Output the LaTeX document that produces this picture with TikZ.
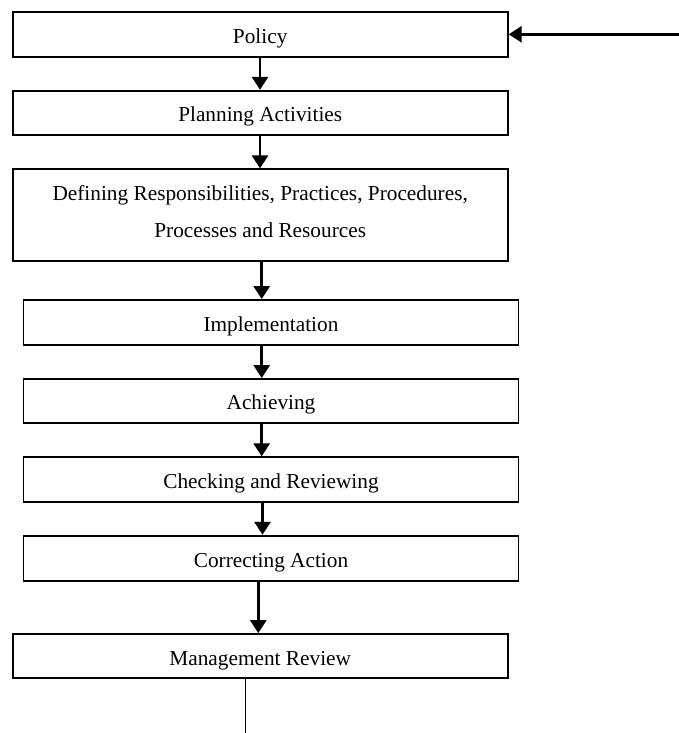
\documentclass[tikz,border=0pt]{standalone}
\usepackage{fontspec}
\setmainfont{Liberation Serif}
\usetikzlibrary{arrows.meta}
\begin{document}
\begin{tikzpicture}[x=1pt,y=-1pt,
  stage/.style={draw, line width=1.9pt, rectangle, inner sep=0pt, align=center,
    minimum width=495pt, text height=19pt, text depth=1.4pt,
    font=\fontsize{21.3}{37}\selectfont},
  flow/.style={line width=2.9pt, -{Triangle[length=13pt,width=16pt]}},
  tail/.style={line width=1.4pt}]
\useasboundingbox (0,0) rectangle (679,733);
% process stages
\node[stage, minimum height=44.4pt] (policy) at (260.2,34.5) {Policy};
\node[stage, minimum height=44.3pt] (plan) at (260.2,112.9) {Planning Activities};
\node[stage, minimum height=91.7pt, text height=45pt, text depth=1.4pt] (define) at (260.2,215.2)
  {Defining Responsibilities, Practices, Procedures,\\Processes and Resources};
\node[stage, minimum height=45pt] (impl) at (271,322.5) {Implementation};
\node[stage, minimum height=44pt] (achieve) at (271,401) {Achieving};
\node[stage, minimum height=45pt] (check) at (271,479.8) {Checking and Reviewing};
\node[stage, minimum height=45pt] (correct) at (271,558.2) {Correcting Action};
\node[stage, minimum height=44.3pt] (review) at (260.2,656.2) {Management Review};
% columns for the connectors
\coordinate (ca) at (260,0);
\coordinate (cb) at (261.7,0);
\coordinate (cc) at (262.5,0);
\coordinate (cd) at (258.3,0);
\coordinate (ce) at (245.7,0);
\coordinate (feed) at (679,34.3);
\coordinate (out) at (245.7,733);
% connectors
\draw[flow] (feed) -- (feed -| policy.east);
\draw[flow] (policy.south -| ca) -- (plan.north -| ca);
\draw[flow] (plan.south -| ca) -- (define.north -| ca);
\draw[flow] (define.south -| cb) -- (impl.north -| cb);
\draw[flow] (impl.south -| cb) -- (achieve.north -| cb);
\draw[flow] (achieve.south -| cb) -- (check.north -| cb);
\draw[flow] (check.south -| cc) -- (correct.north -| cc);
\draw[flow] (correct.south -| cd) -- (review.north -| cd);
\draw[tail] (review.south -| ce) -- (out);
\end{tikzpicture}
\end{document}
